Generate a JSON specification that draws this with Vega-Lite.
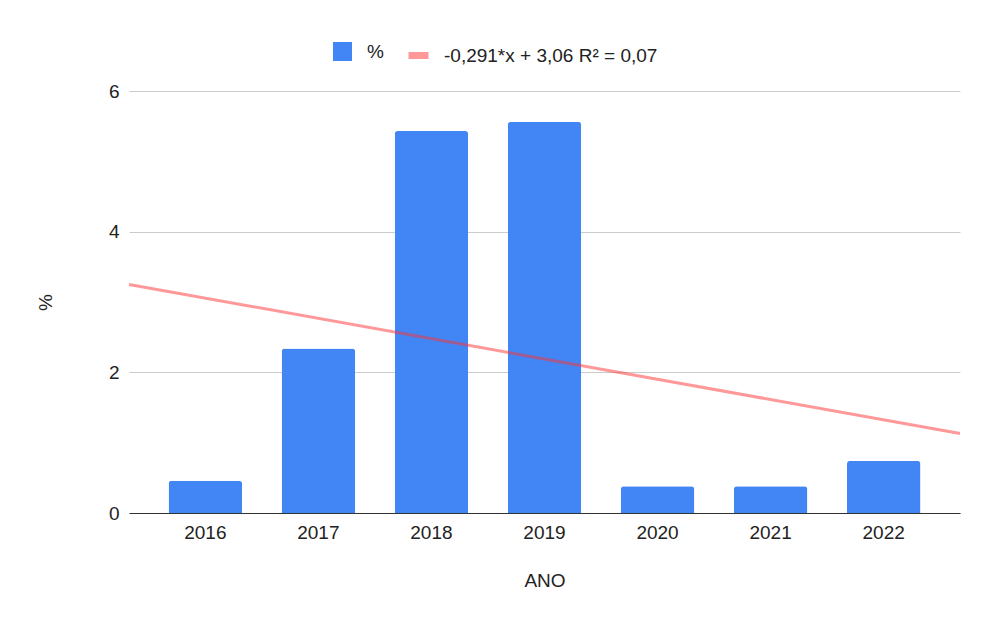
{
  "$schema": "https://vega.github.io/schema/vega-lite/v6.json",
  "width": 831,
  "height": 422,
  "autosize": {"type": "none"},
  "padding": {"left": 129, "top": 91, "right": 23, "bottom": 104},
  "background": "#ffffff",
  "config": {
    "font": "Liberation Sans",
    "view": {"stroke": null},
    "axis": {"labelFontSize": 19, "labelColor": "#222222", "titleFontSize": 19, "titleColor": "#222222", "titleFontWeight": "normal"},
    "legend": {"labelFontSize": 19, "labelColor": "#222222", "labelLimit": 500}
  },
  "datasets": {
    "bars": [
      {"ano": "2016", "pct": 0.46, "serie": "%"},
      {"ano": "2017", "pct": 2.34, "serie": "%"},
      {"ano": "2018", "pct": 5.43, "serie": "%"},
      {"ano": "2019", "pct": 5.56, "serie": "%"},
      {"ano": "2020", "pct": 0.38, "serie": "%"},
      {"ano": "2021", "pct": 0.38, "serie": "%"},
      {"ano": "2022", "pct": 0.74, "serie": "%"}
    ],
    "trend": [
      {"x": -0.5, "pct": 3.25, "serie": "-0,291*x + 3,06 R² = 0,07"},
      {"x": 6.5, "pct": 1.13, "serie": "-0,291*x + 3,06 R² = 0,07"}
    ]
  },
  "layer": [
    {
      "data": {"name": "bars"},
      "mark": {"type": "bar", "cornerRadiusTopLeft": 3, "cornerRadiusTopRight": 3},
      "encoding": {
        "x": {
          "field": "ano", "type": "ordinal",
          "scale": {"paddingInner": 0.35, "paddingOuter": 0.35},
          "axis": {"title": "ANO", "labelAngle": 0, "ticks": false, "grid": false, "domainColor": "#333333", "domainWidth": 1, "labelPadding": 10, "titleY": 67, "titleBaseline": "middle"}
        },
        "y": {
          "field": "pct", "type": "quantitative",
          "scale": {"domain": [0, 6], "nice": false},
          "axis": {"title": "%", "values": [0, 2, 4, 6], "format": "d", "domain": false, "ticks": false, "gridColor": "#cccccc", "labelPadding": 10, "titleX": -84, "titleY": 211, "titleAngle": -90, "titleBaseline": "middle", "titleAlign": "center"}
        },
        "color": {
          "field": "serie", "type": "nominal",
          "scale": {"domain": ["%"], "range": ["#4285F4"]},
          "legend": {"title": null, "orient": "none", "legendX": 204, "legendY": -49, "symbolType": "square", "symbolSize": 361, "symbolStrokeWidth": 0, "labelOffset": 15, "padding": 0}
        }
      }
    },
    {
      "data": {"name": "trend"},
      "mark": {"type": "line", "strokeWidth": 3, "opacity": 0.5},
      "encoding": {
        "x": {"field": "x", "type": "quantitative", "scale": {"domain": [-0.5, 6.5], "nice": false, "zero": false}, "axis": null},
        "y": {"field": "pct", "type": "quantitative", "title": "%"},
        "stroke": {
          "field": "serie", "type": "nominal",
          "scale": {"domain": ["-0,291*x + 3,06 R² = 0,07"], "range": ["#ff3333"]},
          "legend": {"title": null, "orient": "none", "legendX": 276, "legendY": -49, "symbolType": "stroke", "symbolSize": 400, "symbolStrokeWidth": 7, "labelOffset": 12, "padding": 0}
        }
      }
    }
  ],
  "resolve": {"scale": {"x": "independent"}, "axis": {"x": "independent"}}
}
